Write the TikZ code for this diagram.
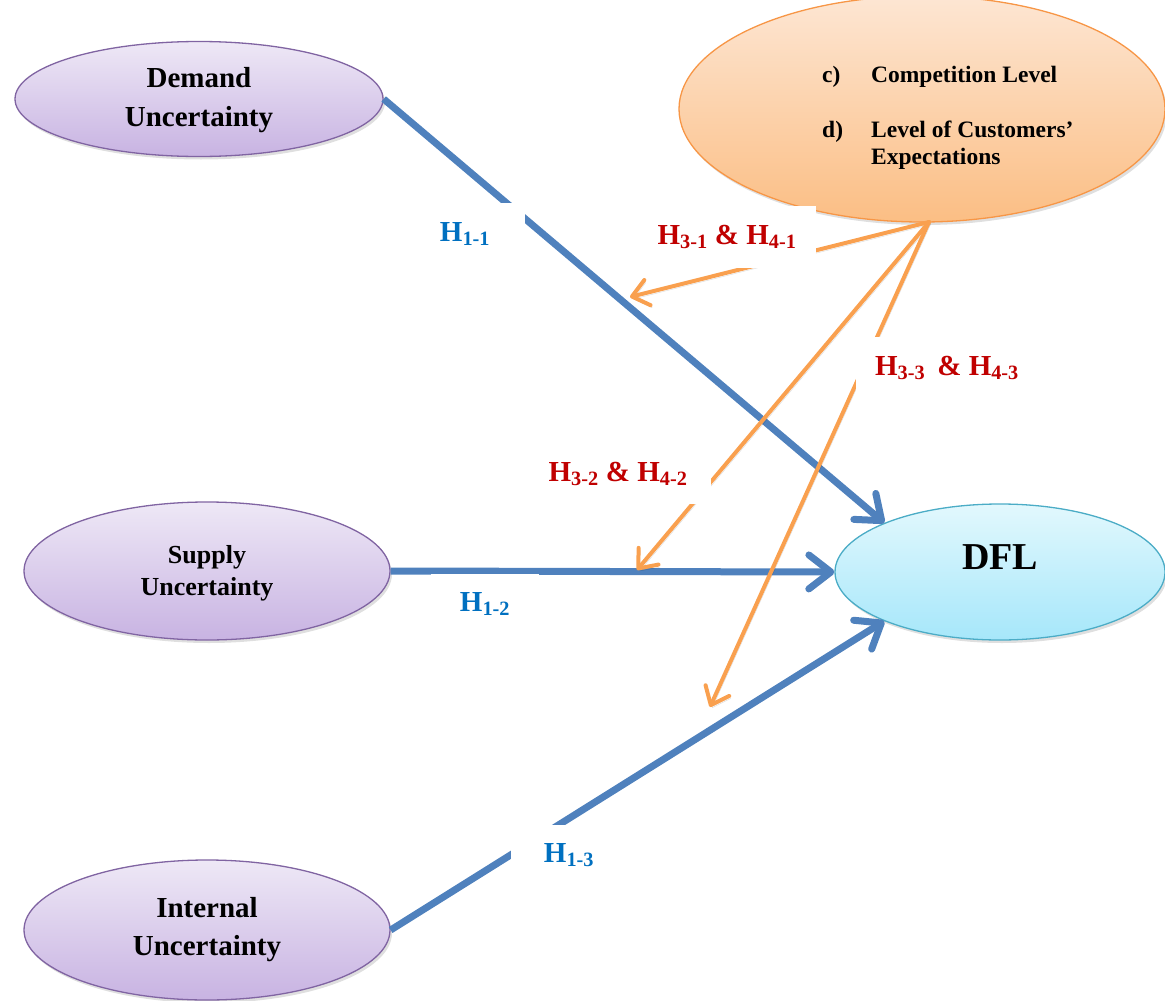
\documentclass[tikz,border=0pt]{standalone}
\usepackage{fontspec}
\setmainfont{Liberation Serif}
\usetikzlibrary{shapes.geometric,arrows.meta,shadows}
\definecolor{purpB}{HTML}{8064A2}
\definecolor{purpT}{HTML}{EEE8F6}
\definecolor{purpBt}{HTML}{C8B3E2}
\definecolor{orB}{HTML}{F79646}
\definecolor{orT}{HTML}{FDE6D3}
\definecolor{orBt}{HTML}{FBBE84}
\definecolor{cyB}{HTML}{4BACC6}
\definecolor{cyT}{HTML}{E2F8FD}
\definecolor{cyBt}{HTML}{A6E7FA}
\definecolor{lineBlue}{HTML}{4F81BD}
\definecolor{lineOr}{HTML}{F9A04F}
\definecolor{labBlue}{HTML}{0070C0}
\definecolor{labRed}{HTML}{C00000}
\begin{document}
\begin{tikzpicture}[x=1pt,y=-1pt,
  ell/.style={ellipse, inner sep=0pt, line width=1.3pt,
     drop shadow={opacity=0.25, shadow xshift=2pt, shadow yshift=-3pt}},
  purp/.style={ell, draw=purpB, top color=purpT, bottom color=purpBt},
  orng/.style={ell, draw=orB, top color=orT, bottom color=orBt},
  cyan/.style={ell, draw=cyB, top color=cyT, bottom color=cyBt},
  btext/.style={font=\bfseries, align=center, text=black},
  shad/.style={preaction={draw=black, opacity=0.15, transform canvas={shift={(1.5pt,-2.5pt)}}}},
  bluearrow/.style={draw=lineBlue, line width=7pt, shad,
     -{Straight Barb[length=22pt,width=34pt,round]}},
  orarrow/.style={draw=lineOr, line width=4pt, shad, line cap=round,
     -{Straight Barb[length=16pt,width=26pt,round]}},
  otext/.style={anchor=base west, inner sep=0pt, font=\fontsize{23.5}{26}\selectfont\bfseries},
  hlab/.style={fill=white, inner sep=0pt, font=\fontsize{29}{31}\selectfont\bfseries, text height=20pt, text depth=6pt}
]
\useasboundingbox (0,0) rectangle (1165,1001);

% ellipses
\node[purp, minimum width=368, minimum height=115] (dem) at (199,99) {};
\node[btext, font=\fontsize{29}{39}\selectfont\bfseries] (demt) at (199,100) {Demand\\Uncertainty};

\node[purp, minimum width=366, minimum height=138] (sup) at (207,571) {};
\node[btext, font=\fontsize{26}{32}\selectfont\bfseries] (supt) at (207,573) {Supply\\Uncertainty};

\node[purp, minimum width=366, minimum height=140] (int) at (207,930) {};
\node[btext, font=\fontsize{29}{38}\selectfont\bfseries] (intt) at (207,930) {Internal\\Uncertainty};

\node[orng, minimum width=486, minimum height=226] (comp) at (922,109) {};
\node[otext] (cl) at (822,82) {\makebox[49pt][l]{c)}Competition Level};
\node[otext] (dl) at (822,137) {\makebox[49pt][l]{d)}Level of Customers’};
\node[otext] (el) at (871,164) {Expectations};

\node[cyan, minimum width=330, minimum height=136] (dfl) at (1000,572) {};
\node[btext, font=\fontsize{38}{42}\selectfont\bfseries] (dflt) at (1000,557) {DFL};

% coordinates
\coordinate (src) at (929,222);
\coordinate (t1) at (630,297);
\coordinate (t2) at (637,570);
\coordinate (t3) at (710,707);

% blue connectors
\draw[bluearrow] (dem.east) -- (dfl.157);
\draw[bluearrow] (sup.east) -- (dfl.west);
\draw[bluearrow] (int.east) -- (dfl.203);

% orange connectors
\draw[orarrow] (src) -- (t1);
\draw[orarrow] (src) -- (t2);
\draw[orarrow] (src) -- (t3);

% labels with white boxes
\node[hlab, text=labBlue, minimum width=120, minimum height=62] (h11) at (465,234) {H\textsubscript{1-1}};
\node[hlab, text=labRed, minimum width=178, minimum height=62] (h31) at (727,237) {H\textsubscript{3-1} \& H\textsubscript{4-1}};
\node[hlab, text=labRed, minimum width=182, minimum height=63] (h33) at (947,368) {H\textsubscript{3-3}\, \& H\textsubscript{4-3}};
\node[hlab, text=labRed, minimum width=186, minimum height=60] (h32) at (618,474) {H\textsubscript{3-2} \& H\textsubscript{4-2}};
\node[hlab, text=labBlue, minimum width=108, minimum height=61] (h12) at (485,604) {H\textsubscript{1-2}};
\node[hlab, text=labBlue, minimum width=117, minimum height=61] (h13) at (569,855) {H\textsubscript{1-3}};
\end{tikzpicture}
\end{document}
